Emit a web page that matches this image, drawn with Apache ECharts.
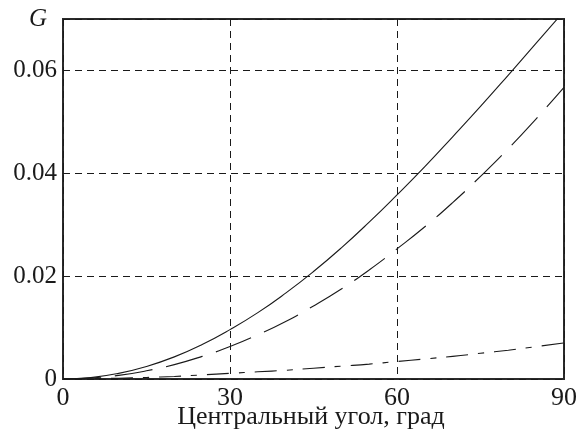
<!DOCTYPE html>
<html>
<head>
<meta charset="utf-8">
<script src="https://cdn.jsdelivr.net/npm/echarts@6/dist/echarts.min.js"></script>
<style>
  html, body { margin: 0; padding: 0; background: #fff; }
  #chart { width: 579px; height: 436px; }
</style>
</head>
<body>
<div id="chart"></div>
<script>
// центральный угол, град
const angles = [0, 5, 10, 15, 20, 25, 30, 35, 40, 45, 50, 55, 60, 65, 70, 75, 80, 85, 90];
// сплошная
const solidG = [0, 0.00027, 0.0011, 0.00244, 0.0043, 0.0067, 0.0096, 0.0129, 0.0167, 0.0209, 0.0255, 0.0305,
  0.0358, 0.0413, 0.0471, 0.053, 0.0591, 0.0653, 0.0715];
// штриховая
const dashedG = [0, 0.0002, 0.0007, 0.0016, 0.0028, 0.0044, 0.0063, 0.0086, 0.0112, 0.0142, 0.0175, 0.0212,
  0.0253, 0.0296, 0.0343, 0.0394, 0.0448, 0.0506, 0.0567];
// штрихпунктирная
const dashDotG = [0, 0.00004, 0.00015, 0.0003, 0.0005, 0.0008, 0.0011, 0.0014, 0.0017, 0.0021, 0.0025, 0.0029,
  0.0034, 0.0039, 0.0044, 0.005, 0.0056, 0.0063, 0.007];
const xTicks = [0, 30, 60, 90];
const yTicks = [0, 0.02, 0.04, 0.06];
const xTitle = 'Центральный угол, град';
const yTitle = 'G';

const pairs = (ys) => angles.map((a, i) => [a, ys[i]]);
const serif = 'Liberation Serif';
const ink = '#1a1a1a';

const chart = echarts.init(document.getElementById('chart'), null, { renderer: 'canvas' });

chart.setOption({
  animation: false,
  grid: {
    left: 63,
    right: 15,
    top: 19,
    bottom: 57,
    outerBoundsMode: 'none',
    show: true,
    borderColor: '#2a2a2a',
    borderWidth: 2,
  },
  xAxis: {
    type: 'value',
    min: 0,
    max: 90,
    interval: 30,
    axisLine: { show: false },
    axisTick: { show: false },
    axisLabel: {
      margin: 6,
      fontFamily: serif,
      fontSize: 26,
      color: ink,
      formatter: (v) => (xTicks.includes(v) ? String(v) : ''),
    },
    splitLine: { show: true, lineStyle: { color: ink, width: 1, type: [7, 5] } },
  },
  yAxis: {
    type: 'value',
    min: 0,
    max: 0.07,
    interval: 0.02,
    axisLine: { show: false },
    axisTick: { show: false },
    axisLabel: {
      margin: 6,
      fontFamily: serif,
      fontSize: 25,
      color: ink,
      showMaxLabel: false,
      formatter: (v) => {
        const t = yTicks.find((y) => Math.abs(y - v) < 1e-9);
        return t === undefined ? '' : (t === 0 ? '0' : t.toFixed(2));
      },
    },
    splitLine: { show: true, lineStyle: { color: ink, width: 1, type: [7, 5] } },
  },
  graphic: [
    {
      type: 'text',
      left: 29,
      top: 7,
      style: { text: yTitle, font: 'italic 25px "Liberation Serif"', fill: ink },
    },
    {
      type: 'text',
      x: 311,
      y: 417,
      style: {
        text: xTitle,
        font: '26px "Liberation Serif"',
        fill: ink,
        textAlign: 'center',
        textVerticalAlign: 'middle',
      },
    },
  ],
  series: [
    {
      name: 'solid',
      type: 'line',
      data: pairs(solidG),
      smooth: true,
      showSymbol: false,
      clip: true,
      lineStyle: { color: ink, width: 1.1, type: 'solid' },
    },
    {
      name: 'dashed',
      type: 'line',
      data: pairs(dashedG),
      smooth: true,
      showSymbol: false,
      clip: true,
      lineStyle: { color: ink, width: 1.1, type: [38, 14] },
    },
    {
      name: 'dashdot',
      type: 'line',
      data: pairs(dashDotG),
      smooth: true,
      showSymbol: false,
      clip: true,
      lineStyle: { color: ink, width: 1.1, type: [22, 10, 6, 10] },
    },
  ],
});
</script>
</body>
</html>
